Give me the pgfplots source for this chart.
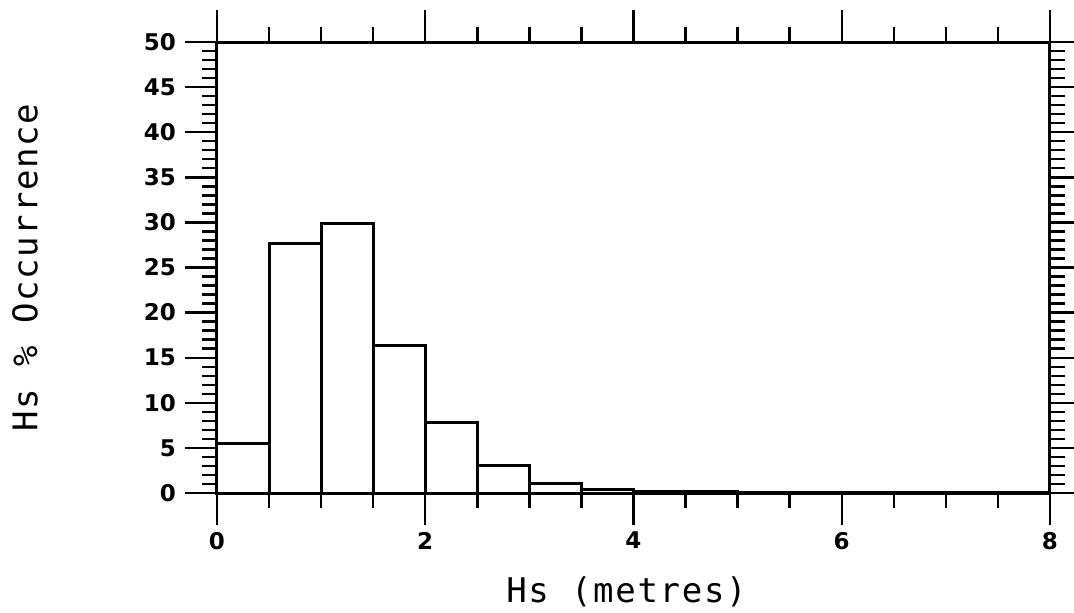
\documentclass[border=0pt]{standalone}
\usepackage{fontspec}
\setmainfont{DejaVu Sans}
\newfontfamily\labfont[LetterSpace=5]{DejaVu Sans Mono}
\usepackage{pgfplots}
\pgfplotsset{compat=1.18}

\begin{document}
\begin{tikzpicture}
  \begin{axis}[
      name=ax,
      scale only axis,
      width=416.5pt,
      height=225.5pt,
      xmin=0, xmax=8,
      ymin=0, ymax=50,
      xtick={0,2,...,8},
      minor x tick num=3,
      ytick={0,5,...,50},
      minor y tick num=4,
      tick align=outside,
      major tick length=16pt,
      minor tick length=7.5pt,
      axis line style={line width=1.5pt},
      every tick/.append style={black, line width=1.2pt},
      /pgf/number format/assume math mode=true,
      ticklabel style={font=\bfseries\fontsize{11.5}{13}\selectfont},
      yticklabel style={xshift=-1pt},
      xlabel={Hs (metres)},
      ylabel={Hs \% Occurrence},
      label style={font=\labfont\fontsize{17}{19}\selectfont},
      xlabel style={at={(axis description cs:0.4916,-0.2195)}, anchor=center},
      ylabel style={at={(axis description cs:-0.2305,0.5)}, anchor=center},
    ]
    \addplot[ybar interval, draw=black, fill=none, line width=1.5pt] coordinates {
        (0,5.5) (0.5,27.7) (1,29.85) (1.5,16.3) (2,7.8) (2.5,3.0) (3,1.0) (3.5,0.4)
        (4,0.2) (4.5,0.18) (5,0.06) (5.5,0.05) (6,0.03) (6.5,0.03) (7,0.02) (7.5,0.02)
        (8,0.02)
      };
  \end{axis}
  \pgfresetboundingbox
  \path (ax.south west) ++(-108.5pt,-59.5pt) rectangle ++(537pt,306pt);
\end{tikzpicture}
\end{document}
